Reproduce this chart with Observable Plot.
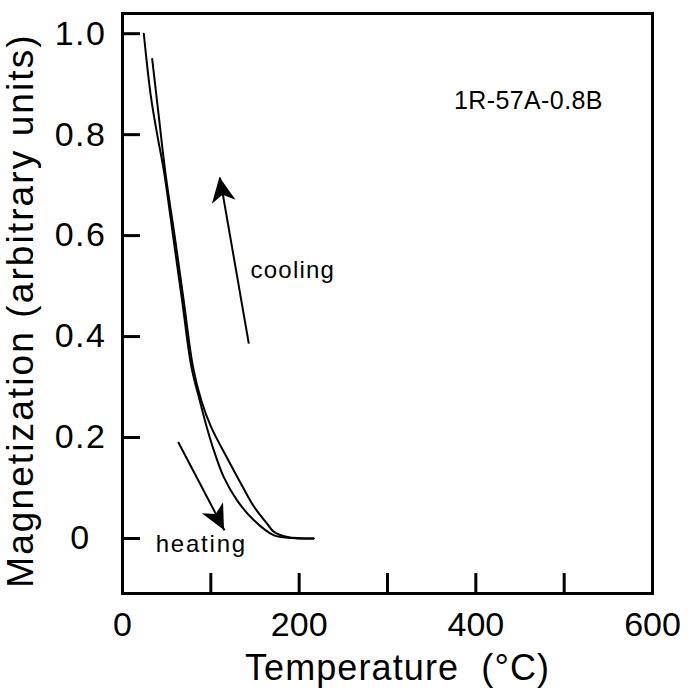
<!DOCTYPE html>
<html>
<head>
<meta charset="utf-8">
<script src="https://cdn.jsdelivr.net/npm/d3@7"></script>
<script src="https://cdn.jsdelivr.net/npm/@observablehq/plot@0.6"></script>
<style>
  html, body { margin: 0; padding: 0; background: #fff; }
  svg { display: block; }
</style>
</head>
<body>
<div id="chart"></div>
<script>
// ---- Data ----
// Curve A (starts at M = 1.0, runs along the inner branch at high T)
const curveAT = [24.1, 31.8, 39.3, 46.8, 58.0, 67.5, 78.1, 87.5, 95.5, 103.5, 114.8, 129.9, 148.8, 171.5, 192.0, 216.0];
const curveAM = [1.000, 0.880, 0.800, 0.729, 0.590, 0.471, 0.339, 0.273, 0.220, 0.174, 0.121, 0.075, 0.036, 0.006, 0.001, 0.000];
// Curve B (starts at M = 0.95, runs along the outer branch at high T)
const curveBT = [33.6, 41.1, 48.7, 59.8, 69.3, 79.9, 89.3, 100.5, 118.0, 134.3, 149.3, 163.9, 171.5, 186.7, 216.7];
const curveBM = [0.950, 0.836, 0.723, 0.590, 0.471, 0.339, 0.273, 0.220, 0.161, 0.108, 0.062, 0.029, 0.013, 0.003, 0.000];

// Axis ticks
const xTickLabels = [0, 200, 400, 600];
const xTickMarks = [100, 200, 300, 400, 500];
const yTickValues = [0, 0.2, 0.4, 0.6, 0.8, 1.0];

// Arrows (start -> tip) in data units
const arrowName = ["cooling", "heating"];
const arrowT1 = [143.0, 63.0];
const arrowM1 = [0.386, 0.191];
const arrowT2 = [110.3, 115.5];
const arrowM2 = [0.715, 0.016];

// Annotations
const sampleLabel = "1R-57A-0.8B";
const sampleT = 459.5, sampleM = 0.867;
const coolLabel = "cooling";
const coolT = 145.0, coolM = 0.531;
const heatLabel = "heating";
const heatT = 37.5, heatM = -0.012;
const xTitle = "Temperature  (°C)";
const yTitle = "Magnetization (arbitrary units)";

// ---- Build tables ----
const lineData = [
  ...curveAT.map((t, i) => ({curve: "A", t, m: curveAM[i]})),
  ...curveBT.map((t, i) => ({curve: "B", t, m: curveBM[i]}))
];
const arrows = arrowName.map((name, i) => ({name, t1: arrowT1[i], m1: arrowM1[i], t2: arrowT2[i], m2: arrowM2[i]}));

const FONT = "'Liberation Sans', Arial, Helvetica, sans-serif";

function arrowHeads(index, scales) {
  const g = d3.create("svg:g").attr("fill", "black");
  for (const a of arrows) {
    const x1 = scales.x(a.t1), y1 = scales.y(a.m1);
    const x2 = scales.x(a.t2), y2 = scales.y(a.m2);
    const ang = Math.atan2(y2 - y1, x2 - x1) * 180 / Math.PI;
    g.append("path")
      .attr("d", "M0,0L-25,-12L-18,0L-25,12Z")
      .attr("transform", `translate(${x2},${y2}) rotate(${ang})`);
  }
  return g.node();
}

const chart = Plot.plot({
  width: 688,
  height: 690,
  marginLeft: 122,
  marginRight: 36,
  marginTop: 13,
  marginBottom: 97,
  style: {fontFamily: FONT, background: "#fff", color: "#000"},
  x: {domain: [0, 600], axis: null},
  y: {domain: [-0.109, 1.04], axis: null},
  marks: [
    Plot.axisX({ticks: xTickLabels, tickSize: 0, tickPadding: 18, fontSize: 34, fontFamily: FONT, tickFormat: d => String(d)}),
    Plot.axisY({ticks: yTickValues, tickSize: 0, tickPadding: 42, fontSize: 34, fontFamily: FONT, textAnchor: "middle",
                tickFormat: d => d === 0 ? "0" : d.toFixed(1)}),
    Plot.ruleX(xTickMarks, {stroke: "black", strokeWidth: 3, insetTop: 560}),
    Plot.ruleY(yTickValues, {stroke: "black", strokeWidth: 3, insetRight: 512}),
    Plot.line(lineData, {x: "t", y: "m", z: "curve", stroke: "black", strokeWidth: 2, curve: "catmull-rom"}),
    Plot.link(arrows, {x1: "t1", y1: "m1", x2: "t2", y2: "m2", stroke: "black", strokeWidth: 2}),
    arrowHeads,
    Plot.text([sampleLabel], {x: sampleT, y: sampleM, fontSize: 25, textAnchor: "middle", fill: "black", fontFamily: FONT}),
    Plot.text([coolLabel], {x: coolT, y: coolM, fontSize: 24, textAnchor: "start", fill: "black", fontFamily: FONT}),
    Plot.text([heatLabel], {x: heatT, y: heatM, fontSize: 24, textAnchor: "start", fill: "black", fontFamily: FONT}),
    Plot.text([xTitle], {frameAnchor: "bottom", lineAnchor: "middle", dy: 75, dx: 10, fontSize: 36, fill: "black", fontFamily: FONT}),
    Plot.text([yTitle], {frameAnchor: "left", textAnchor: "middle", lineAnchor: "middle", rotate: -90, dx: -101, dy: 7, fontSize: 37, fill: "black", fontFamily: FONT}),
    Plot.frame({stroke: "black", strokeWidth: 3})
  ]
});

// letter spacing (Plot's text mark has no option for it)
const spacing = new Map([[yTitle, 2.1], [xTitle, 1.1], [coolLabel, 1.2], [heatLabel, 1.8], [sampleLabel, 0.4]]);
d3.select(chart).selectAll("text").each(function () {
  const s = spacing.get(this.textContent);
  if (s != null) d3.select(this).attr("letter-spacing", s);
});
d3.select(chart).selectAll('[aria-label="y-axis tick label"] text').attr("letter-spacing", 1.5);

document.getElementById("chart").appendChild(chart);
</script>
</body>
</html>
